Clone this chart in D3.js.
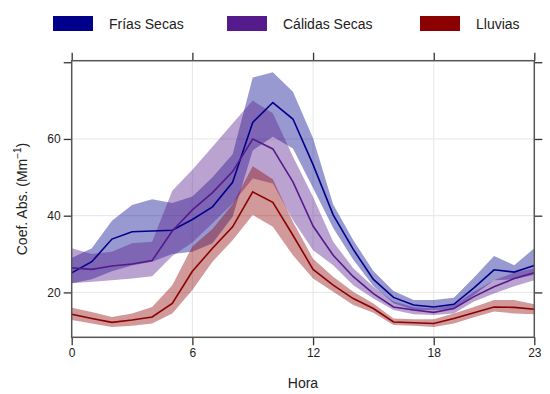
<!DOCTYPE html>
<html>
<head>
<meta charset="utf-8">
<script src="https://cdn.jsdelivr.net/npm/d3@7"></script>
<style>
  body { margin: 0; background: #fff; }
  svg text { font-family: 'Liberation Sans', Arial, sans-serif; fill: #222; }
</style>
</head>
<body>
<div id="chart"></div>
<script>
'use strict';

var hours = [0, 1, 2, 3, 4, 5, 6, 7, 8, 9, 10, 11, 12, 13, 14, 15, 16, 17, 18, 19, 20, 21, 22, 23];
var xTicks = [0, 6, 12, 18, 23];
var yTicks = [20, 40, 60, 80];
var yLabels = [20, 40, 60];

var seriesNames = ['Frías Secas', 'Cálidas Secas', 'Lluvias'];
var seriesColors = ['#00008B', '#551A8B', '#8B0000'];

var friasMean = [25.1, 28.0, 33.9, 35.8, 36.0, 36.2, 39.0, 42.3, 48.7, 64.3, 69.5, 65.2, 53.3, 40.2, 31.2, 23.4, 18.7, 16.7, 16.2, 16.9, 21.2, 25.9, 25.3, 27.0];
var friasHi = [29.0, 31.5, 38.7, 42.8, 44.3, 43.3, 45.0, 50.0, 56.0, 76.0, 77.4, 72.3, 60.2, 42.9, 33.6, 25.6, 20.4, 18.0, 18.0, 18.6, 23.9, 29.5, 27.1, 31.5];
var friasLo = [22.4, 23.4, 25.5, 27.0, 28.0, 30.0, 30.6, 32.8, 39.7, 57.0, 60.6, 57.5, 47.2, 36.8, 28.5, 21.7, 17.2, 15.4, 15.4, 15.6, 19.3, 23.2, 23.4, 24.6];

var calidasMean = [26.4, 26.0, 26.9, 27.4, 28.3, 36.0, 41.5, 46.0, 51.5, 60.0, 57.4, 48.8, 37.3, 29.7, 24.1, 19.7, 16.2, 15.4, 14.8, 15.8, 18.9, 21.5, 23.6, 25.1];
var calidasHi = [31.5, 30.0, 30.6, 32.8, 33.2, 46.5, 52.0, 58.0, 64.0, 70.0, 66.7, 55.4, 44.9, 33.2, 26.3, 21.5, 17.6, 16.2, 15.8, 16.7, 20.2, 23.2, 25.1, 26.3];
var calidasLo = [22.4, 22.8, 23.2, 23.6, 24.2, 29.5, 33.0, 38.0, 43.2, 49.7, 48.4, 38.9, 31.0, 27.1, 21.9, 18.4, 15.4, 14.3, 14.1, 14.5, 17.6, 19.7, 21.6, 23.2];

var lluviasMean = [14.3, 13.2, 12.2, 12.8, 13.6, 17.1, 25.5, 31.5, 37.1, 46.2, 43.5, 34.9, 26.0, 21.9, 18.4, 15.8, 12.3, 12.1, 11.9, 13.2, 14.7, 16.2, 16.1, 15.6];
var lluviasHi = [16.0, 14.9, 13.6, 14.5, 16.2, 21.9, 32.0, 36.5, 43.0, 52.9, 49.5, 38.4, 28.8, 24.1, 20.2, 17.1, 13.2, 13.0, 13.0, 14.5, 16.2, 18.0, 18.0, 16.9];
var lluviasLo = [12.8, 11.9, 11.0, 11.3, 11.9, 14.5, 20.6, 28.0, 33.6, 40.2, 37.1, 29.7, 23.6, 20.2, 16.7, 14.7, 11.5, 11.3, 11.0, 11.9, 13.5, 15.0, 14.5, 14.3];

var series = [
  { mean: friasMean, hi: friasHi, lo: friasLo },
  { mean: calidasMean, hi: calidasHi, lo: calidasLo },
  { mean: lluviasMean, hi: lluviasHi, lo: lluviasLo }
];

var width = 550, height = 394;
var plotL = 71.7, plotR = 534.3, plotT = 60.7, plotB = 337.3;

var svg = d3.select('#chart')
  .append('svg')
  .attr('width', width)
  .attr('height', height);

var x = d3.scaleLinear().domain([0, 23]).range([plotL, plotR]);
var y = d3.scaleLinear().domain([8.3, 80.4]).range([plotB, plotT]);

// grid
svg.append('g').selectAll('line')
  .data([6, 12, 18])
  .enter()
  .append('line')
  .attr('x1', function(d) { return x(d); })
  .attr('x2', function(d) { return x(d); })
  .attr('y1', plotT)
  .attr('y2', plotB)
  .attr('stroke', '#e6e6e6')
  .attr('stroke-width', 1);

svg.append('g').selectAll('line')
  .data(yLabels)
  .enter()
  .append('line')
  .attr('x1', plotL)
  .attr('x2', plotR)
  .attr('y1', function(d) { return y(d); })
  .attr('y2', function(d) { return y(d); })
  .attr('stroke', '#e6e6e6')
  .attr('stroke-width', 1);

// bands
var area = function(s) {
  return d3.area()
    .x(function(d, i) { return x(hours[i]); })
    .y0(function(d, i) { return y(s.lo[i]); })
    .y1(function(d, i) { return y(s.hi[i]); })(s.mean);
};

var line = d3.line()
  .x(function(d, i) { return x(hours[i]); })
  .y(function(d) { return y(d); });

series.forEach(function(s, k) {
  svg.append('path')
    .attr('d', area(s))
    .attr('fill', seriesColors[k])
    .attr('fill-opacity', 0.4);
});

series.forEach(function(s, k) {
  svg.append('path')
    .attr('d', line(s.mean))
    .attr('fill', 'none')
    .attr('stroke', seriesColors[k])
    .attr('stroke-width', 1.6);
});

// axes on all four sides
var tick = 8;
svg.append('g')
  .attr('transform', 'translate(0,' + plotB + ')')
  .call(d3.axisBottom(x).tickValues(xTicks).tickSize(tick).tickFormat(d3.format('d')));
svg.append('g')
  .attr('transform', 'translate(0,' + plotT + ')')
  .call(d3.axisTop(x).tickValues(xTicks).tickSize(tick).tickFormat(''));
svg.append('g')
  .attr('transform', 'translate(' + plotL + ',0)')
  .call(d3.axisLeft(y).tickValues(yTicks).tickSize(tick)
    .tickFormat(function(d) { return yLabels.indexOf(d) >= 0 ? d : ''; }));
svg.append('g')
  .attr('transform', 'translate(' + plotR + ',0)')
  .call(d3.axisRight(y).tickValues(yTicks).tickSize(tick).tickFormat(''));

svg.selectAll('.domain').remove();
svg.selectAll('.tick line').attr('stroke', '#333').attr('stroke-width', 1.3);
svg.selectAll('.tick text')
  .style('font-family', "'Liberation Sans', Arial, sans-serif")
  .style('font-size', '12px')
  .attr('fill', '#222');

svg.append('rect')
  .attr('x', plotL)
  .attr('y', plotT)
  .attr('width', plotR - plotL)
  .attr('height', plotB - plotT)
  .attr('fill', 'none')
  .attr('stroke', '#555')
  .attr('stroke-width', 1.5);

// axis titles
svg.append('text')
  .attr('x', (plotL + plotR) / 2)
  .attr('y', 388)
  .attr('text-anchor', 'middle')
  .style('font-size', '14px')
  .text('Hora');

var yt = svg.append('text')
  .attr('transform', 'translate(27,' + ((plotT + plotB) / 2) + ') rotate(-90)')
  .attr('text-anchor', 'middle')
  .style('font-size', '14px');
yt.append('tspan').text('Coef. Abs. (Mm');
yt.append('tspan').attr('dy', -6).style('font-size', '10px').text('−1');
yt.append('tspan').attr('dy', 6).text(')');

// legend
var legendX = [53, 227, 420];
var lg = svg.append('g').selectAll('g')
  .data(seriesNames)
  .enter()
  .append('g')
  .attr('transform', function(d, i) { return 'translate(' + legendX[i] + ',16)'; });

lg.append('rect')
  .attr('width', 40)
  .attr('height', 15)
  .attr('fill', function(d, i) { return seriesColors[i]; });

lg.append('text')
  .attr('x', 56)
  .attr('y', 13)
  .style('font-size', '14px')
  .text(function(d) { return d; });
</script>
</body>
</html>
